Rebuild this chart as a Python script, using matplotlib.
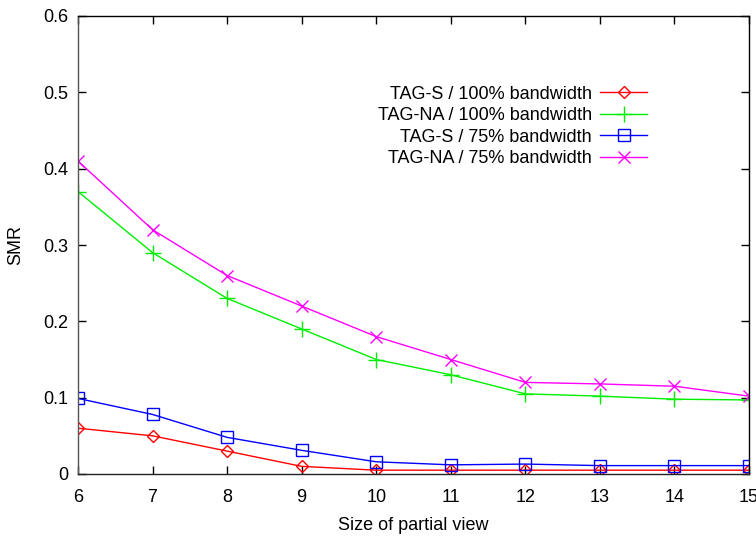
import matplotlib
matplotlib.use('Agg')
import matplotlib.pyplot as plt

# ------------------ Data ------------------
sizes = [6, 7, 8, 9, 10, 11, 12, 13, 14, 15]
tag_s_100 = [0.06, 0.05, 0.03, 0.01, 0.005, 0.005, 0.005, 0.005, 0.005, 0.005]
tag_na_100 = [0.37, 0.29, 0.23, 0.19, 0.15, 0.13, 0.105, 0.102, 0.098, 0.097]
tag_s_75 = [0.099, 0.078, 0.048, 0.031, 0.016, 0.012, 0.013, 0.011, 0.011, 0.011]
tag_na_75 = [0.41, 0.32, 0.26, 0.22, 0.18, 0.15, 0.12, 0.118, 0.115, 0.102]

plt.rcParams['font.family'] = ['Liberation Sans', 'DejaVu Sans']
plt.rcParams['font.size'] = 13

fig = plt.figure(figsize=(7.56, 5.38), dpi=100)
ax = fig.add_axes([78 / 756, 1 - 474 / 538, (749 - 78) / 756, (474 - 16) / 538])

ax.plot(sizes, tag_s_100, color='#ff0000', lw=1, marker='D', ms=6.5,
        mfc='none', mew=1, label='TAG-S / 100% bandwidth')
ax.plot(sizes, tag_na_100, color='#00ee00', lw=1, marker='+', ms=11,
        mew=1, label='TAG-NA / 100% bandwidth')
ax.plot(sizes, tag_s_75, color='#0000ff', lw=1, marker='s', ms=8.5,
        mfc='none', mew=1, label='TAG-S / 75% bandwidth')
ax.plot(sizes, tag_na_75, color='#ff00ff', lw=1, marker='x', ms=9,
        mew=1, label='TAG-NA / 75% bandwidth')

ax.set_xlim(6, 15)
ax.set_ylim(0, 0.6)
ax.set_xticks(sizes)
ax.set_yticks([0, 0.1, 0.2, 0.3, 0.4, 0.5, 0.6])
ax.set_yticklabels(['0', '0.1', '0.2', '0.3', '0.4', '0.5', '0.6'])
ax.tick_params(direction='in', top=True, right=True, length=6, width=1)
ax.tick_params(axis='x', pad=11)
ax.tick_params(axis='y', pad=7)
for s in ax.spines.values():
    s.set_linewidth(1)
ax.spines['left'].set_color('#555555')
ax.spines['bottom'].set_color('#222222')

ax.set_xlabel('Size of partial view', labelpad=8)
ax.set_ylabel('SMR', labelpad=14)

ax.legend(loc='upper right', bbox_to_anchor=(0.848, 0.848), frameon=False,
          markerfirst=False, handlelength=2.6, handletextpad=0.45,
          labelspacing=0.25, borderpad=0, borderaxespad=0)

fig.savefig('out.png', dpi=100)
